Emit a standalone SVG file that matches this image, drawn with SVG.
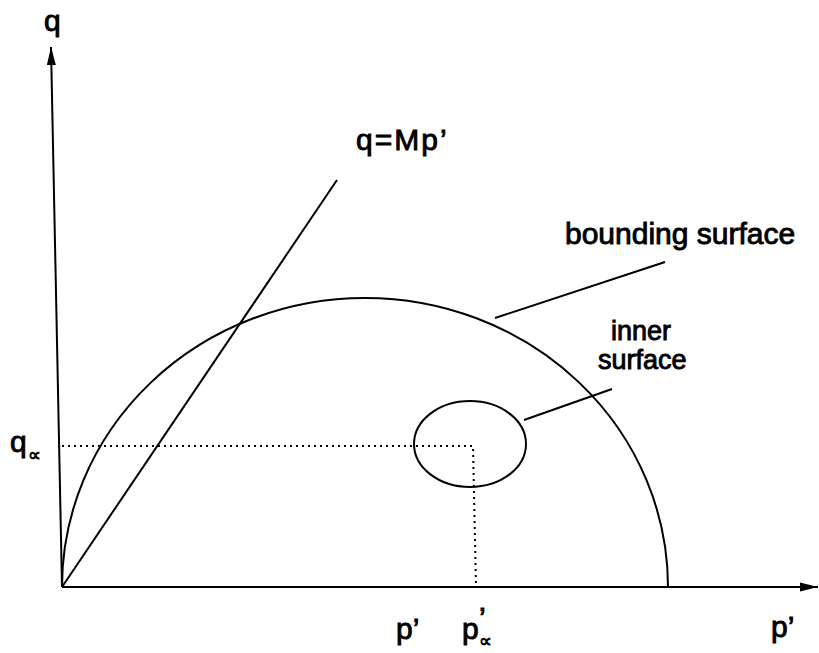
<svg xmlns="http://www.w3.org/2000/svg" width="819" height="653" viewBox="0 0 819 653">
<style>
.t{font-family:"Liberation Sans",Arial,sans-serif;font-size:30px;fill:#000;stroke:#000;stroke-width:0.9}
.m{font-size:27px}
.s{font-size:18px;stroke-width:0.8}
.l{fill:none;stroke:#000;stroke-width:2}
.d{fill:none;stroke:#000;stroke-width:2;stroke-dasharray:2,4}
</style>
<defs>
<marker id="ah" markerWidth="20" markerHeight="10" refX="18" refY="5" orient="auto" markerUnits="userSpaceOnUse">
<path d="M0,0.5 L18,5 L0,9.5 Z" fill="#000"/>
</marker>
</defs>
<rect width="819" height="653" fill="#fff"/>
<g id="axes">
<line class="l" x1="62" y1="587" x2="51" y2="47" marker-end="url(#ah)"/>
<line class="l" x1="62" y1="587" x2="818" y2="587" marker-end="url(#ah)"/>
</g>
<g id="bounding-surface">
<path class="l" d="M62,587 A303,289 0 0 1 668,587"/>
</g>
<g id="inner-surface">
<ellipse class="l" cx="470" cy="444" rx="56" ry="43"/>
</g>
<g id="connectors">
<line class="l" x1="62" y1="587" x2="337" y2="180"/>
<polyline class="d" points="62,446 473,446 476,587"/>
<line class="l" x1="495" y1="318" x2="665" y2="262"/>
<line class="l" x1="524" y1="420" x2="612" y2="389"/>
</g>
<g id="labels">
<text class="t" x="44" y="31">q</text>
<text class="t" x="356" y="150" letter-spacing="2">q=Mp’</text>
<text class="t" x="565" y="244">bounding surface</text>
<text class="t m" x="611" y="340">inner</text>
<text class="t m" x="598" y="369">surface</text>
<text class="t" x="10" y="452">q<tspan class="s" x="28" y="461">∝</tspan></text>
<text class="t" x="396" y="639">p’</text>
<text class="t" x="462" y="639">p<tspan x="479" y="628">’</tspan><tspan class="s" x="479" y="647">∝</tspan></text>
<text class="t" x="771" y="637">p’</text>
</g>
</svg>
